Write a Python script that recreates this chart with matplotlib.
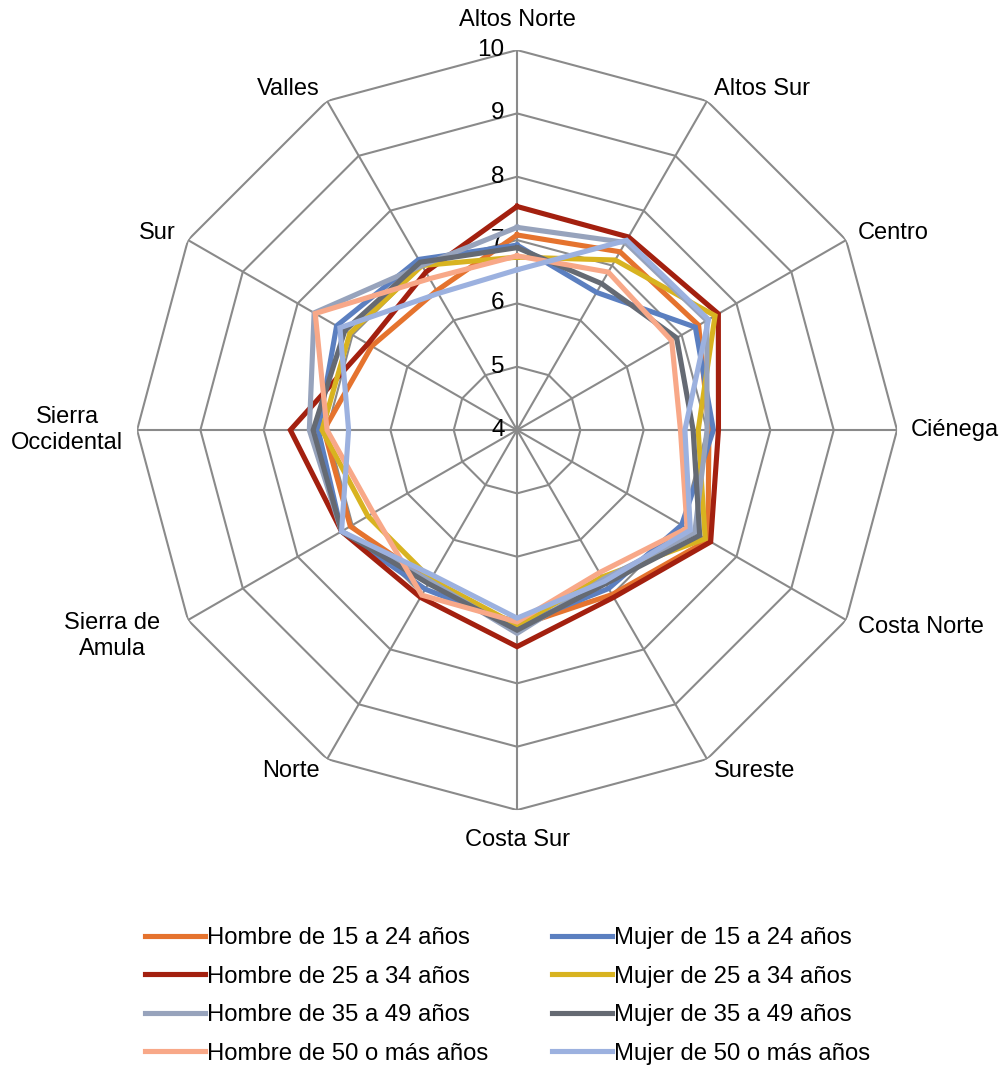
import numpy as np
import matplotlib
matplotlib.use('Agg')
import matplotlib.pyplot as plt

plt.rcParams['font.family'] = ['Liberation Sans', 'DejaVu Sans']

categorias = ["Altos Norte", "Altos Sur", "Centro", "Ciénega", "Costa Norte",
              "Sureste", "Costa Sur", "Norte", "Sierra de\nAmula",
              "Sierra\nOccidental", "Sur", "Valles"]

# valores por serie, en el orden de categorias
hombre_15_24 = [7.08, 7.25, 7.31, 7.03, 7.48, 7.00, 7.10, 6.75, 7.04, 7.05, 6.65, 6.54]
mujer_15_24 = [6.92, 6.51, 7.25, 7.10, 7.00, 6.89, 7.08, 6.90, 7.20, 7.14, 7.29, 7.11]
hombre_25_34 = [7.53, 7.52, 7.67, 7.18, 7.53, 7.05, 7.42, 7.05, 7.20, 7.58, 6.72, 6.88]
mujer_25_34 = [6.73, 7.10, 7.61, 6.86, 7.43, 6.68, 7.08, 6.72, 6.72, 7.08, 7.05, 7.00]
hombre_35_49 = [7.20, 7.42, 7.46, 7.00, 7.24, 6.72, 7.21, 6.75, 7.20, 7.28, 7.70, 7.00]
mujer_35_49 = [6.88, 6.67, 6.91, 6.78, 7.33, 6.80, 7.16, 6.80, 7.20, 7.22, 7.14, 7.06]
hombre_50 = [6.75, 6.88, 6.82, 6.58, 7.10, 6.60, 7.03, 7.01, 6.62, 7.00, 7.68, 6.76]
mujer_50 = [6.53, 7.46, 7.49, 6.65, 7.16, 6.76, 6.97, 6.65, 7.20, 6.66, 7.23, 6.49]

niveles = [4, 5, 6, 7, 8, 9, 10]

# orden de dibujo como en Excel (la ultima serie queda encima)
series = [
    ("Hombre de 15 a 24 años", hombre_15_24, '#E5732E'),
    ("Mujer de 15 a 24 años", mujer_15_24, '#5B7FC0'),
    ("Hombre de 25 a 34 años", hombre_25_34, '#A3200F'),
    ("Mujer de 25 a 34 años", mujer_25_34, '#D8B320'),
    ("Hombre de 35 a 49 años", hombre_35_49, '#97A3BC'),
    ("Mujer de 35 a 49 años", mujer_35_49, '#656A73'),
    ("Hombre de 50 o más años", hombre_50, '#F8A888'),
    ("Mujer de 50 o más años", mujer_50, '#9CB1DF'),
]

n = len(categorias)
ang = np.arange(n) * 2 * np.pi / n
ang_c = np.append(ang, ang[0])

fig = plt.figure(figsize=(10.04, 10.65), dpi=100)
fig.patch.set_facecolor('white')
ax = fig.add_axes([0.1365, 0.2394, 0.757, 0.7136], projection='polar')
ax.set_theta_zero_location('N')
ax.set_theta_direction(-1)
ax.set_ylim(4, 10)
ax.grid(False)
ax.spines['polar'].set_visible(False)
ax.set_xticks([])
ax.set_yticks([])

gris = '#8A8A8A'
# rejilla poligonal
for nv in niveles[1:]:
    ax.plot(ang_c, [nv] * (n + 1), color=gris, lw=1.5, zorder=1)
for a in ang:
    ax.plot([a, a], [4, 10], color=gris, lw=1.5, zorder=1)

# etiquetas del eje radial
for nv in niveles:
    ax.annotate(str(nv), xy=(0, nv), xytext=(-9, 0), textcoords='offset points',
                ha='right', va='center', fontsize=17.5, annotation_clip=False)

# etiquetas de categorias: (ha, va, radio)
alin = [('center', 'bottom', 10.3), ('left', 'center', 10.22), ('left', 'center', 10.22),
        ('left', 'center', 10.22), ('left', 'center', 10.22), ('left', 'center', 10.22),
        ('center', 'top', 10.3), ('right', 'center', 10.22), ('right', 'center', 10.5),
        ('right', 'center', 10.22), ('right', 'center', 10.22), ('right', 'center', 10.22)]
for a, cat, (ha, va, rr) in zip(ang, categorias, alin):
    ax.text(a, rr, cat, ha=ha, va=va, fontsize=17, multialignment='center',
            clip_on=False)

lineas = {}
for i, (nombre, vals, col) in enumerate(series):
    ln, = ax.plot(ang_c, vals + vals[:1], color=col, lw=3.7, label=nombre,
                  zorder=3 + i, solid_joinstyle='miter')
    lineas[nombre] = ln

orden = [0, 2, 4, 6, 1, 3, 5, 7]
handles = [lineas[series[i][0]] for i in orden]
fig.legend(handles, [h.get_label() for h in handles], loc='upper left',
           bbox_to_anchor=(0.1444, 0.1295), ncol=2, frameon=False, fontsize=17.2,
           handlelength=2.5, handletextpad=0.08, columnspacing=2.7,
           labelspacing=0.69, borderaxespad=0, borderpad=0)

fig.savefig('out.png', dpi=100)
